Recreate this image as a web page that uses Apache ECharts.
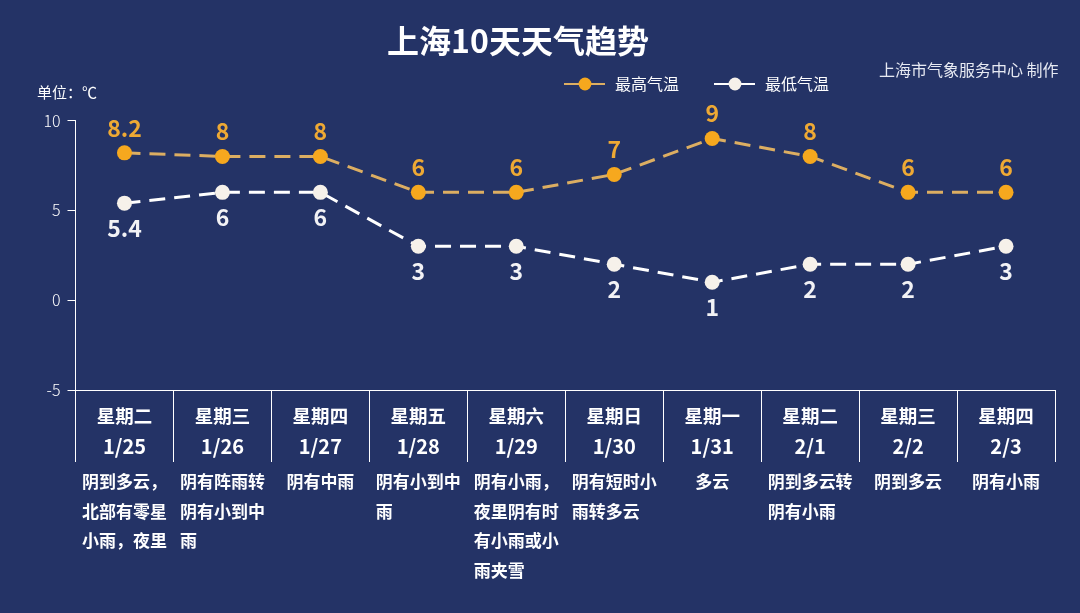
<!DOCTYPE html>
<html><head><meta charset="utf-8">
<script src="https://cdn.jsdelivr.net/npm/echarts@6/dist/echarts.min.js"></script>
<style>html,body{margin:0;padding:0;background:#243366;}#c{width:1080px;height:613px;}</style>
</head><body><div id="c"></div>
<script>
const weekdays = ['星期二','星期三','星期四','星期五','星期六','星期日','星期一','星期二','星期三','星期四'];
const dates = ['1/25','1/26','1/27','1/28','1/29','1/30','1/31','2/1','2/2','2/3'];
const descriptions = [
  ['阴到多云，','北部有零星','小雨，夜里'],
  ['阴有阵雨转','阴有小到中','雨'],
  ['阴有中雨'],
  ['阴有小到中','雨'],
  ['阴有小雨，','夜里阴有时','有小雨或小','雨夹雪'],
  ['阴有短时小','雨转多云'],
  ['多云'],
  ['阴到多云转','阴有小雨'],
  ['阴到多云'],
  ['阴有小雨']
];
const highTemps = [8.2, 8, 8, 6, 6, 7, 9, 8, 6, 6];
const lowTemps = [5.4, 6, 6, 3, 3, 2, 1, 2, 2, 3];
const yTicks = { min: -5, max: 10, interval: 5 };

const cats = dates;
const FONT = '"Noto Sans CJK SC", "Noto Sans", sans-serif';
const chart = echarts.init(document.getElementById('c'));
chart.setOption({
  backgroundColor: '#243366',
  animation: false,
  title: {
    text: '上海10天天气趋势',
    left: 513, top: 20, textAlign: 'center',
    textStyle: { color: '#ffffff', fontSize: 32, fontWeight: 'bold', fontFamily: FONT }
  },
  graphic: [
    { type: 'text', left: 37, top: 85, style: { text: '单位：℃', fill: '#ffffff', fontSize: 15, fontFamily: FONT } },
    { type: 'text', left: 879, top: 62, style: { text: '上海市气象服务中心 制作', fill: '#e6e9f2', fontSize: 16, fontFamily: FONT } }
  ],
  legend: {
    left: 558, top: 71,
    itemWidth: 42, itemHeight: 16, itemGap: 34,
    textStyle: { color: '#ffffff', fontSize: 16, fontFamily: FONT, padding: [0, 0, 0, 4] },
    data: ['最高气温', '最低气温']
  },
  grid: { left: 75.5, right: 25, top: 120.5, bottom: 223 },
  xAxis: [
    {
      type: 'category', data: cats, boundaryGap: true,
      axisLine: { onZero: false, lineStyle: { color: '#ffffff', width: 1 } },
      axisTick: { show: true, length: 72, lineStyle: { color: '#ffffff' } },
      axisLabel: {
        margin: 10, interval: 0,
        formatter: (v, i) => '{w|' + weekdays[i] + '}\n{d|' + dates[i] + '}',
        rich: {
          w: { color: '#ffffff', fontSize: 18.5, fontWeight: 'bold', lineHeight: 31, fontFamily: FONT },
          d: { color: '#ffffff', fontSize: 20, fontWeight: 'bold', lineHeight: 31, fontFamily: FONT }
        }
      }
    },
    {
      type: 'category', data: cats, boundaryGap: true, position: 'bottom', offset: 68,
      axisLine: { show: false, onZero: false }, axisTick: { show: false },
      axisLabel: {
        margin: 9, interval: 0,
        formatter: (v, i) => descriptions[i].map(s => '{t|' + s + '}').join('\n'),
        rich: {
          t: { color: '#ffffff', fontSize: 17, fontWeight: 'bold', lineHeight: 29.5, align: 'left', fontFamily: FONT }
        }
      }
    }
  ],
  yAxis: {
    type: 'value', min: yTicks.min, max: yTicks.max, interval: yTicks.interval,
    splitLine: { show: false },
    axisLine: { show: true, lineStyle: { color: '#ffffff' } },
    axisTick: { show: true, length: 8, lineStyle: { color: '#ffffff' } },
    axisLabel: { color: '#ffffff', fontSize: 16, margin: 15, fontFamily: FONT, fontWeight: 300 }
  },
  series: [
    {
      name: '最高气温', type: 'line', data: highTemps,
      symbol: 'circle', symbolSize: 15,
      itemStyle: { color: '#f6a81e' },
      lineStyle: { color: '#dcae62', width: 3, type: [16, 9] },
      label: { show: true, position: 'top', distance: 6, color: '#eea934', fontSize: 23, fontWeight: 'bold', fontFamily: FONT }
    },
    {
      name: '最低气温', type: 'line', data: lowTemps,
      symbol: 'circle', symbolSize: 15,
      itemStyle: { color: '#f6f1ea' },
      lineStyle: { color: '#ffffff', width: 3, type: [16, 9] },
      label: { show: true, position: 'bottom', distance: 6, color: '#f2f2f5', fontSize: 23, fontWeight: 'bold', fontFamily: FONT }
    }
  ]
});
</script></body></html>
